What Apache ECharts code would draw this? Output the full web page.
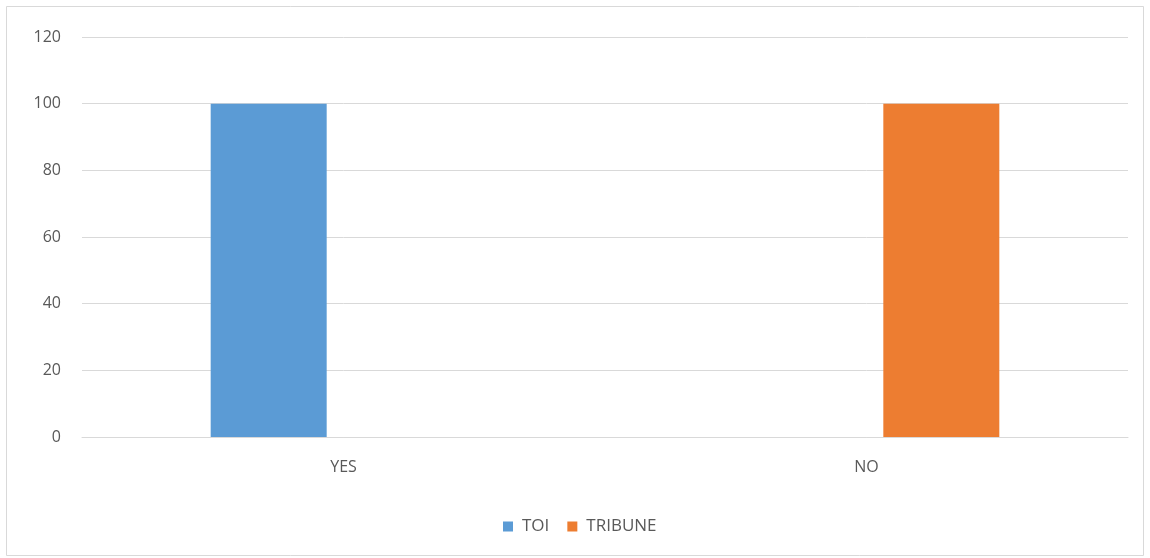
<!DOCTYPE html>
<html>
<head>
<meta charset="utf-8">
<style>
  html, body { margin: 0; padding: 0; background: #fff; }
  #chart { width: 1150px; height: 558px; }
</style>
<script src="https://cdn.jsdelivr.net/npm/echarts@6/dist/echarts.min.js"></script>
</head>
<body>
<div id="chart"></div>
<script>
// Categories, series and tick values
const categories = ['YES', 'NO'];
const toiValues = [100, 0];
const tribuneValues = [0, 100];
const yTicks = [0, 20, 40, 60, 80, 100, 120];

const textColor = '#595959';
const fontFamily = '"Open Sans", "Liberation Sans", sans-serif';

const chart = echarts.init(document.getElementById('chart'));
chart.setOption({
  animation: false,
  backgroundColor: '#ffffff',
  graphic: [{
    type: 'rect',
    shape: { x: 6.5, y: 6.5, width: 1137, height: 549 },
    style: { fill: 'none', stroke: '#d9d9d9', lineWidth: 1 },
    silent: true
  }],
  grid: { left: 82, right: 22, top: 37, bottom: 121, containLabel: false },
  legend: {
    top: 513,
    left: 498,
    icon: 'rect',
    itemWidth: 10,
    itemHeight: 10,
    itemGap: 18,
    textStyle: { color: textColor, fontSize: 17, fontFamily: fontFamily, padding: [0, 0, 0, 4] },
    data: ['TOI', 'TRIBUNE']
  },
  xAxis: {
    type: 'category',
    data: categories,
    axisLine: { show: true, lineStyle: { color: '#d9d9d9', width: 1 } },
    axisTick: { show: false },
    axisLabel: { color: textColor, fontSize: 16, fontFamily: fontFamily, margin: 22 }
  },
  yAxis: {
    type: 'value',
    min: yTicks[0],
    max: yTicks[yTicks.length - 1],
    interval: 20,
    axisLine: { show: false },
    axisTick: { show: false },
    axisLabel: { color: textColor, fontSize: 16, fontFamily: fontFamily, margin: 21 },
    splitLine: { lineStyle: { color: '#d9d9d9', width: 1 } }
  },
  series: [
    {
      name: 'TOI',
      type: 'bar',
      data: toiValues,
      barWidth: 116,
      barGap: '29%',
      itemStyle: { color: '#5b9bd5' }
    },
    {
      name: 'TRIBUNE',
      type: 'bar',
      data: tribuneValues,
      barWidth: 116,
      barGap: '29%',
      itemStyle: { color: '#ed7d31' }
    }
  ]
});
</script>
</body>
</html>
